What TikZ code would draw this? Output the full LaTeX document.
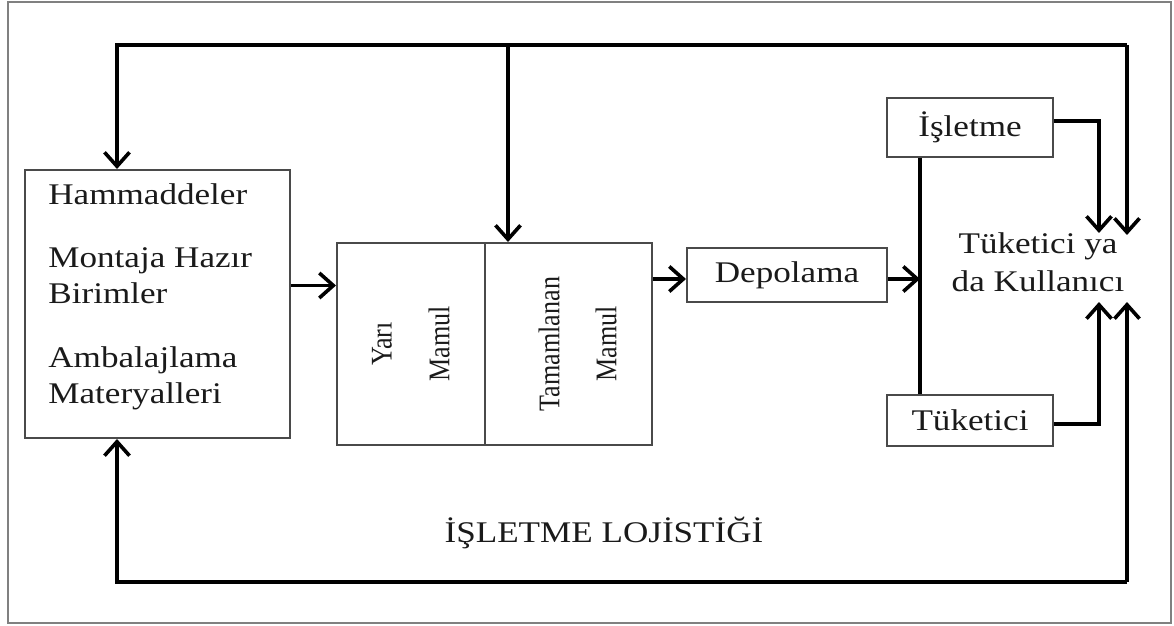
\documentclass[tikz,border=0pt]{standalone}
\usepackage{fontspec}
\setmainfont{Liberation Serif}[FakeStretch=1.17]
\newfontfamily\rotfont{Liberation Serif}[FakeStretch=0.87]
\usetikzlibrary{arrows.meta}
\definecolor{txt}{HTML}{1A1A1A}
\definecolor{boxc}{HTML}{4A4A4A}
\tikzset{
  box/.style={draw=boxc, line width=1pt, inner sep=0pt, text=txt},
  lbl/.style={inner sep=0pt, text=txt, font=\fontsize{15}{19}\selectfont},
  rlbl/.style={inner sep=0pt, text=txt, rotate=90, font=\rotfont\fontsize{15}{18}\selectfont},
  conn/.style={line width=1.8pt, line join=miter, black},
  arr/.style={conn, -{Straight Barb[length=7pt,width=12.5pt]}}
}
\begin{document}
\begin{tikzpicture}[x=0.5pt,y=-0.5pt]
\useasboundingbox (0,0) rectangle (1174,626);
\draw[draw=gray, line width=1pt] (8,2) rectangle (1171,623);
% boxes
\node[box, minimum width=132.5pt, minimum height=134pt] (hm) at (157.5,304) {};
\node[box, minimum width=74pt, minimum height=101pt] (yari) at (411,344) {};
\node[box, minimum width=83.5pt, minimum height=101pt] (tam) at (568.5,344) {};
\node[box, minimum width=100pt, minimum height=27pt, font=\fontsize{15}{19}\selectfont] (dep) at (787,275) {Depolama};
\node[box, minimum width=83pt, minimum height=29.5pt, font=\fontsize{15}{19}\selectfont] (isl) at (970,127.5) {İşletme};
\node[box, minimum width=83pt, minimum height=25.5pt, font=\fontsize{15}{19}\selectfont] (tuk) at (970,420.5) {Tüketici};
% left box texts
\node[lbl, anchor=base west] (t1) at (48,205) {Hammaddeler};
\node[lbl, anchor=base west] (t2) at (48,267) {Montaja Hazır};
\node[lbl, anchor=base west] (t3) at (48,303) {Birimler};
\node[lbl, anchor=base west] (t4) at (48,367) {Ambalajlama};
\node[lbl, anchor=base west] (t5) at (48,403) {Materyalleri};
% rotated texts
\node[rlbl] (r1) at (382,344) {Yarı};
\node[rlbl] (r2) at (439,344) {Mamul};
\node[rlbl] (r3) at (549,344) {Tamamlanan};
\node[rlbl] (r4) at (606,344) {Mamul};
% right texts
\node[lbl, anchor=base] (k1t) at (1038,254) {Tüketici ya};
\node[lbl, anchor=base] (k2t) at (1038,292) {da Kullanıcı};
\node[lbl, anchor=base] (title) at (604,542) {İŞLETME LOJİSTİĞİ};
% coordinates
\coordinate (tl) at (117,45);
\coordinate (mx) at (508,45);
\coordinate (bl) at (117,582);
\coordinate (jn) at (920,279);
\coordinate (k1) at (1099,233);
\coordinate (k2) at (1127,235);
\coordinate (k3) at (1099,302);
\coordinate (k4) at (1127,302);
% top loop
\draw[arr] (k2 |- tl) -- (tl) -- (tl |- hm.north);
\draw[arr] (k2 |- tl) -- (k2);
\draw[arr] (mx) -- (mx |- tam.north);
% bottom loop
\draw[arr] (k4 |- bl) -- (bl) -- (bl |- hm.south);
\draw[arr] (k4 |- bl) -- (k4);
% flow
\draw[arr] ([yshift=9.25pt]hm.east) -- ([yshift=9.25pt]hm.east -| yari.west);
\draw[arr] ([yshift=-2pt]dep.west -| tam.east) -- ([yshift=-2pt]dep.west);
\draw[arr] ([yshift=-2pt]dep.east) -- ([yshift=-2pt]dep.east -| jn);
\draw[conn] (isl.south -| jn) -- (tuk.north -| jn);
\draw[arr] ([yshift=3.25pt]isl.east) -| (k1);
\draw[arr] ([yshift=-1.75pt]tuk.east) -| (k3);
\end{tikzpicture}
\end{document}
